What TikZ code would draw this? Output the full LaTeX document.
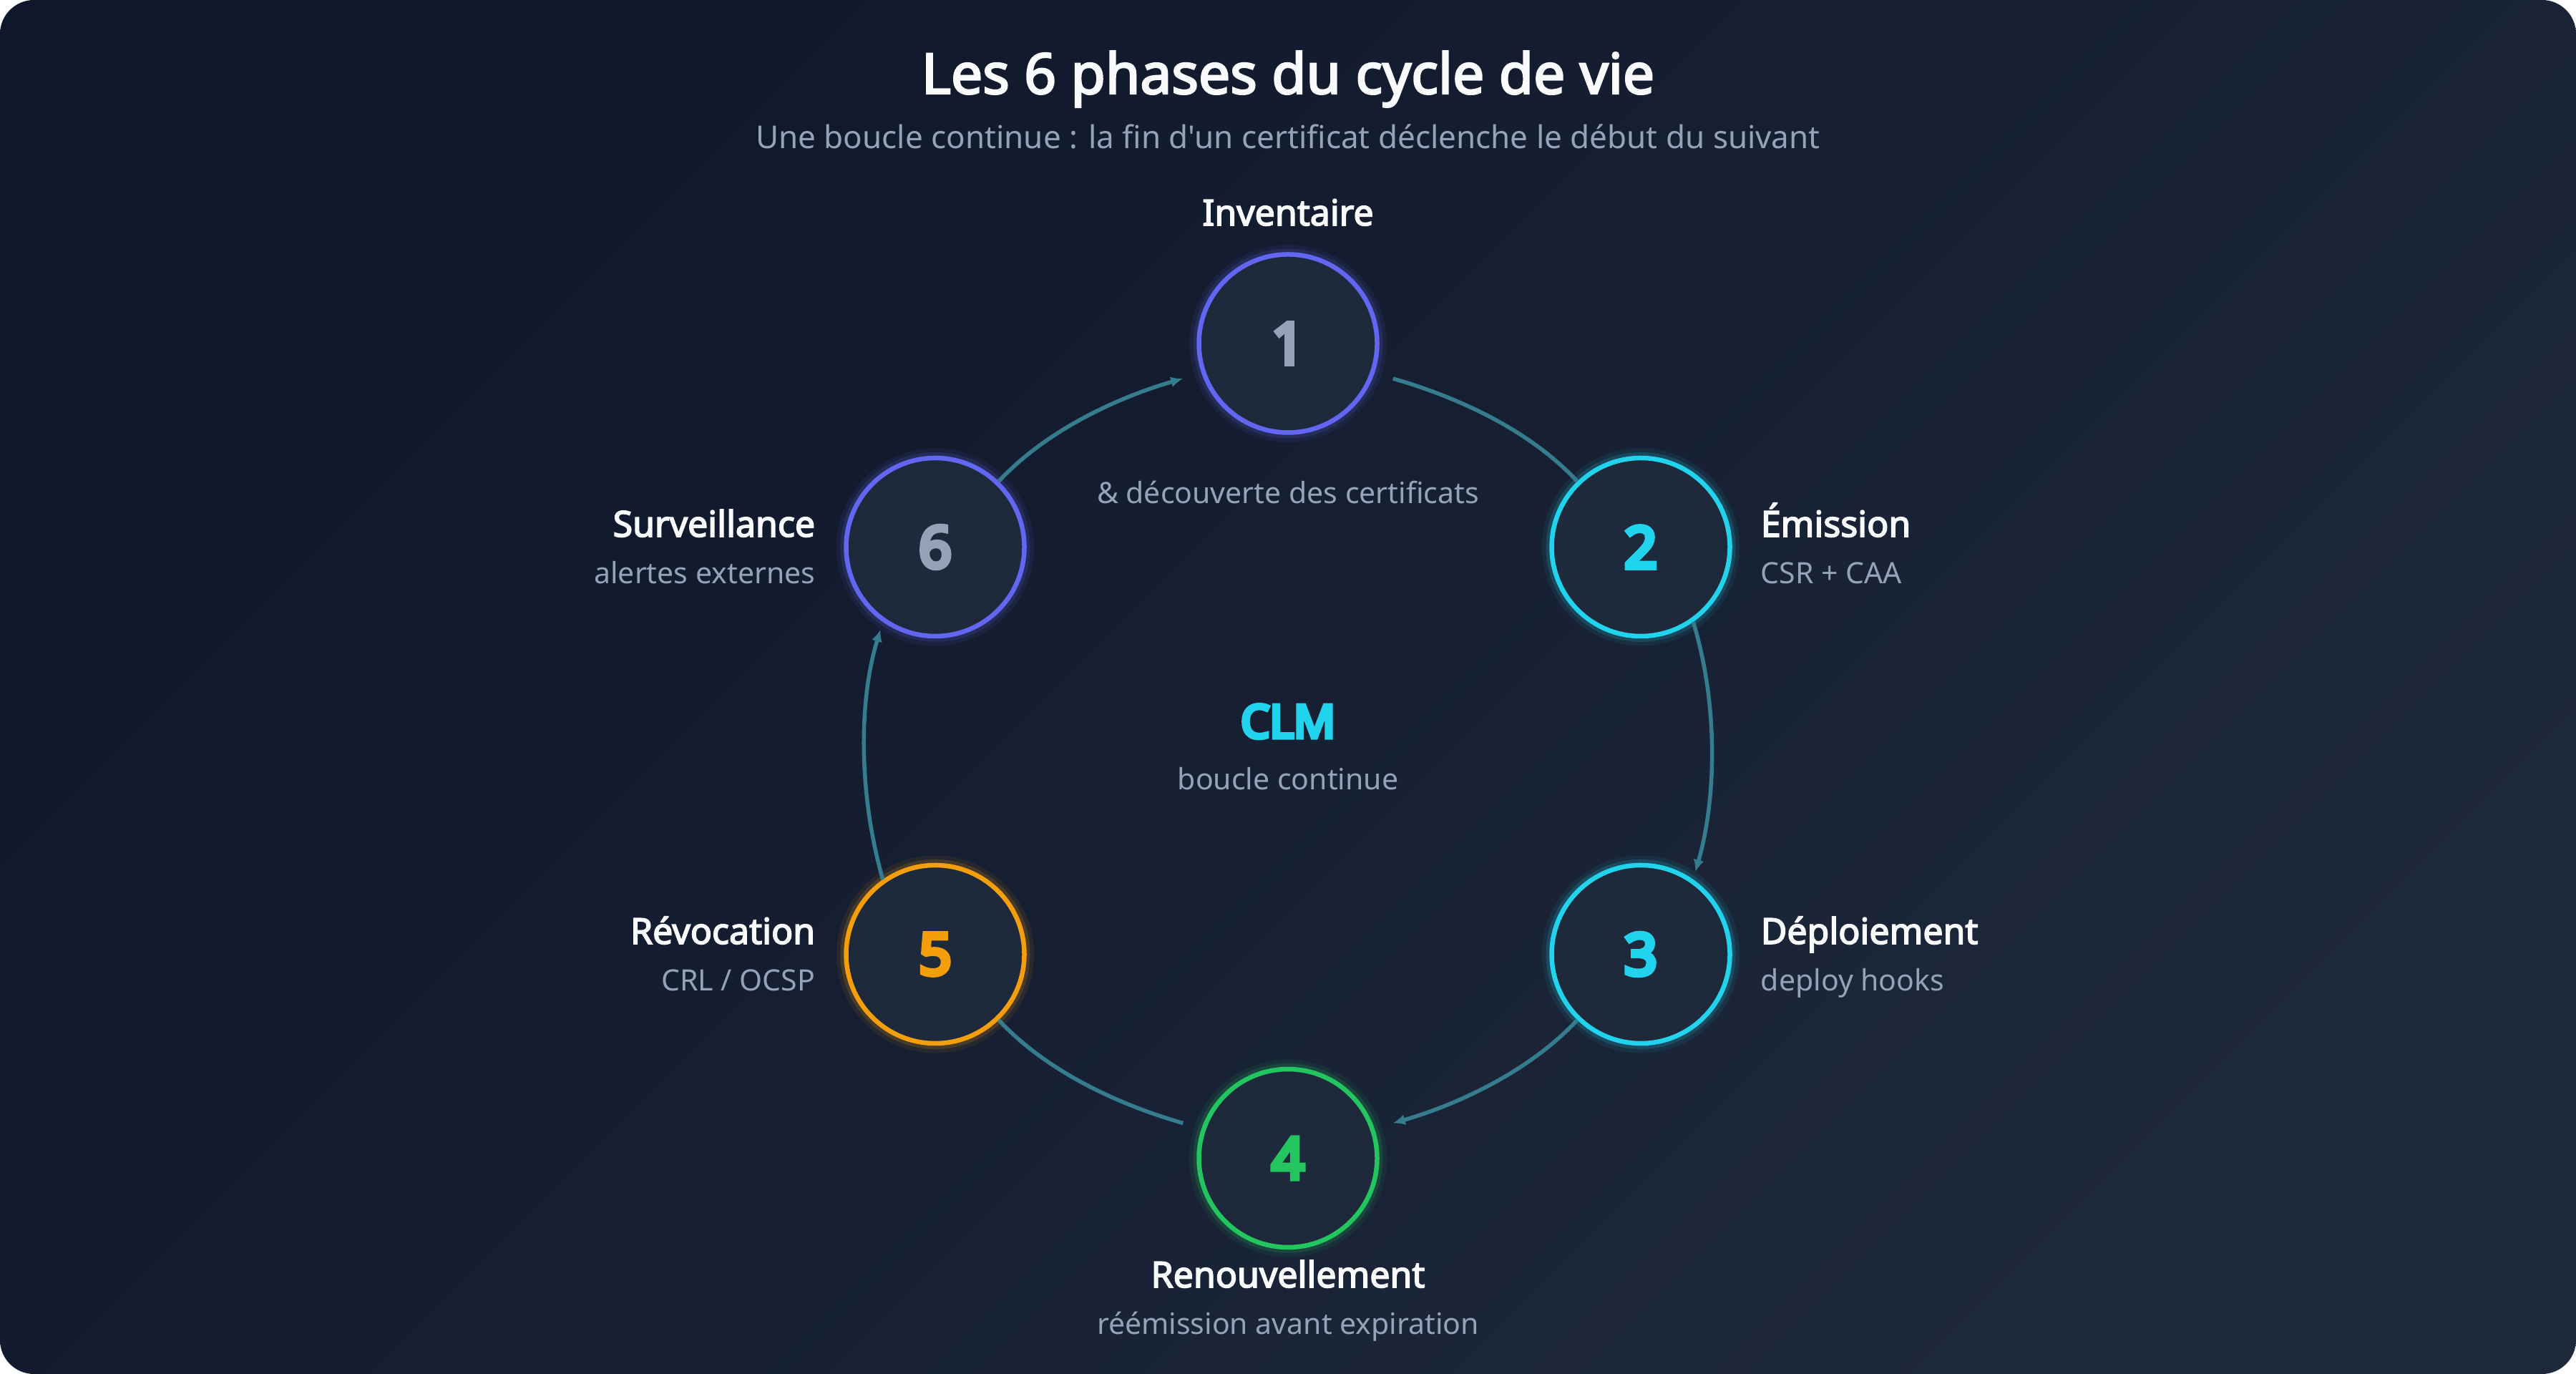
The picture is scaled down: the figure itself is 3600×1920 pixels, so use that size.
\documentclass[tikz,border=0pt]{standalone}
\usepackage{fontspec}
\setmainfont{Noto Sans}
\newfontfamily\uisans{Noto Sans}
\newfontfamily\uibold[FakeBold=3.2]{Noto Sans}
\newfontfamily\uiheavy[FakeBold=8.5]{Noto Sans}
\usetikzlibrary{arrows.meta}

\definecolor{bgtop}{HTML}{0F172A}
\definecolor{bgbot}{HTML}{1E293B}
\definecolor{cardfill}{HTML}{1E293B}
\definecolor{inkwhite}{HTML}{F8FAFC}
\definecolor{inkgray}{HTML}{94A3B8}
\definecolor{cyanring}{HTML}{22D3EE}
\definecolor{indigoring}{HTML}{6366F1}
\definecolor{greenring}{HTML}{22C55E}
\definecolor{amberring}{HTML}{F59E0B}
\definecolor{flowteal}{RGB}{53,125,142}

\tikzset{every picture/.style={line width=0.75pt}}
\tikzset{
  phase/.style={circle, draw=#1, fill=cardfill, line width=1.3pt, minimum size=49.8pt, inner sep=0pt,
    font=\uiheavy\fontsize{16pt}{16pt}\selectfont,
    preaction={draw=#1, draw opacity=0.08, line width=5.4pt},
    preaction={draw=#1, draw opacity=0.16, line width=3.2pt}},
  phasename/.style={inner sep=0pt, text=inkwhite, font=\uibold\fontsize{10pt}{12pt}\selectfont},
  phasenote/.style={inner sep=0pt, text=inkgray, font=\uisans\fontsize{8.2pt}{10pt}\selectfont},
  flow/.style={draw=flowteal, line width=1.1pt, looseness=0.85},
  flowtip/.style={flow, -{Latex[length=3.4pt,width=3pt]}}
}

\begin{document}
\begin{tikzpicture}[x=0.2pt,y=0.2pt]
\useasboundingbox (0,0) rectangle (3600,1920);

% background card
\fill[white] (0,0) rectangle (3600,1920);
\shade[rounded corners=9.5pt, top color=bgtop, bottom color=bgbot, shading angle=45] (0,0) rectangle (3600,1920);

% heading
\node[anchor=base, inner sep=0pt, text=inkwhite, font=\uibold\fontsize{15.7pt}{18pt}\selectfont] (title) at (1800,1789) {Les 6 phases du cycle de vie};
\node[anchor=base, inner sep=0pt, text=inkgray, font=\uisans\fontsize{8.8pt}{10pt}\selectfont] (subtitle) at (1800,1712) {Une boucle continue : la fin d'un certificat déclenche le début du suivant};

% phases
\node[phase=indigoring, text=inkgray] (n1) at (1800,1440) {1};
\node[phase=cyanring, text=cyanring] (n2) at (2293,1155.5) {2};
\node[phase=cyanring, text=cyanring] (n3) at (2293,586.5) {3};
\node[phase=greenring, text=greenring] (n4) at (1800,301.5) {4};
\node[phase=amberring, text=amberring] (n5) at (1307,586.5) {5};
\node[phase=indigoring, text=inkgray] (n6) at (1307,1155.5) {6};

% loop
\draw[flowtip, shorten >=5.4pt] (n6.46) to[out=47, in=196] (n1.199);
\draw[flow, shorten <=5.4pt] (n1.-19) to[out=-16, in=133] (n2.134);
\draw[flowtip, shorten >=2.2pt] (n2.-55) to[out=-73, in=74] (n3.55);
\draw[flowtip, shorten >=5.4pt] (n3.-134) to[out=227, in=16] (n4.19);
\draw[flow, shorten <=5.4pt] (n4.161) to[out=164, in=-47] (n5.-46);
\draw[flowtip, shorten >=2.2pt] (n5.125) to[out=106, in=253] (n6.235);

% labels
\node[phasename, anchor=base] (name1) at (1800,1605) {Inventaire};
\node[phasenote, anchor=base] (note1) at (1800,1216) {\& découverte des certificats};
\node[phasename, anchor=base west] (name2) at (2459,1170) {Émission};
\node[phasenote, anchor=base west] (note2) at (2459,1104) {CSR + CAA};
\node[phasename, anchor=base west] (name3) at (2459,601) {Déploiement};
\node[phasenote, anchor=base west] (note3) at (2459,535) {deploy hooks};
\node[phasename, anchor=base] (name4) at (1800,121) {Renouvellement};
\node[phasenote, anchor=base] (note4) at (1800,55) {réémission avant expiration};
\node[phasename, anchor=base east] (name5) at (1141,601) {Révocation};
\node[phasenote, anchor=base east] (note5) at (1141,535) {CRL / OCSP};
\node[phasename, anchor=base east] (name6) at (1141,1170) {Surveillance};
\node[phasenote, anchor=base east] (note6) at (1141,1104) {alertes externes};

% centre
\node[anchor=base, inner sep=0pt, text=cyanring, font=\uiheavy\fontsize{12.8pt}{14pt}\selectfont] (hub) at (1800,889) {CLM};
\node[phasenote, anchor=base] (hubnote) at (1800,816) {boucle continue};

\end{tikzpicture}
\end{document}
